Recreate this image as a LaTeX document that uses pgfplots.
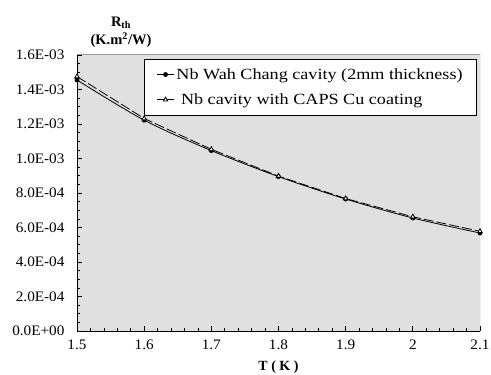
\documentclass[border=0pt]{standalone}
\usepackage{pgfplots}
\pgfplotsset{compat=1.18}
\usepackage{fontspec}
\setmainfont{Liberation Serif}
\newfontfamily\widefont[FakeStretch=1.17]{Liberation Serif}
\newfontfamily\tickfont[FakeStretch=1.05]{Liberation Serif}
\begin{document}
\begin{tikzpicture}
\begin{axis}[
  name=main,
  scale only axis,
  width=403pt, height=276pt,
  xmin=1.5, xmax=2.1,
  ymin=0, ymax=1.6e-3,
  axis lines*=left,
  axis line style={-, black, line width=0.8pt},
  axis background/.style={fill=black!12},
  tick align=inside,
  xtick pos=bottom, ytick pos=left,
  xtick={1.5,1.6,1.7,1.8,1.9,2.0,2.1},
  xticklabels={1.5,1.6,1.7,1.8,1.9,2,2.1},
  ytick={0,2e-4,4e-4,6e-4,8e-4,10e-4,12e-4,14e-4,16e-4},
  yticklabels={0.0E+00,2.0E-04,4.0E-04,6.0E-04,8.0E-04,1.0E-03,1.2E-03,1.4E-03,1.6E-03},
  scaled y ticks=false,
  minor x tick num=4,
  minor y tick num=3,
  major tick length=5pt,
  minor tick length=3pt,
  every tick/.style={black, line width=0.7pt},
  tick label style={font=\tickfont\fontsize{14.5}{17}\selectfont},
  yticklabel style={xshift=-9pt},
  xticklabel style={yshift=-5pt},
  legend style={at={(1,1)}, anchor=north east, xshift=-3pt, yshift=-4pt,
    font=\widefont\fontsize{15.5}{18}\selectfont, draw=black, line width=0.8pt, fill=white,
    row sep=9pt, inner xsep=12pt, inner ysep=7pt},
  legend image post style={solid},
  legend cell align=left,
]
\addplot[black, line width=0.8pt, smooth, mark=*, mark size=2pt, mark options={solid, fill=black}]
  coordinates {(1.5,1.455e-3) (1.6,1.222e-3) (1.7,1.046e-3) (1.8,0.895e-3) (1.9,0.765e-3) (2.0,0.655e-3) (2.1,0.568e-3)};
\addlegendentry{Nb Wah Chang cavity (2mm thickness)}
\addplot[black, line width=0.8pt, dash pattern=on 10pt off 3pt, mark=triangle*, mark size=2.6pt, mark options={solid, fill=white}]
  coordinates {(1.5,1.475e-3) (1.6,1.232e-3) (1.7,1.053e-3) (1.8,0.898e-3) (1.9,0.768e-3) (2.0,0.662e-3) (2.1,0.578e-3)};
\addlegendentry{\ Nb cavity with CAPS Cu coating}
\draw[black!40, line width=1pt] (rel axis cs:0,1) -- (rel axis cs:1,1) -- (rel axis cs:1,0);
\end{axis}
\node[align=center, anchor=south, inner sep=0pt, font=\fontsize{14.5}{16}\selectfont\bfseries]
  at ([xshift=44pt, yshift=7pt]main.north west) {R\textsubscript{th}\\[2pt](K.m\textsuperscript{2}/W)};
\node[anchor=south, inner sep=0pt, font=\fontsize{14}{16}\selectfont\bfseries]
  at ([yshift=-42.5pt]main.south) {T ( K )};
\pgfresetboundingbox
\path ([xshift=-77pt, yshift=-43pt]main.south west) rectangle ([xshift=11pt, yshift=55pt]main.north east);
\end{tikzpicture}
\end{document}
